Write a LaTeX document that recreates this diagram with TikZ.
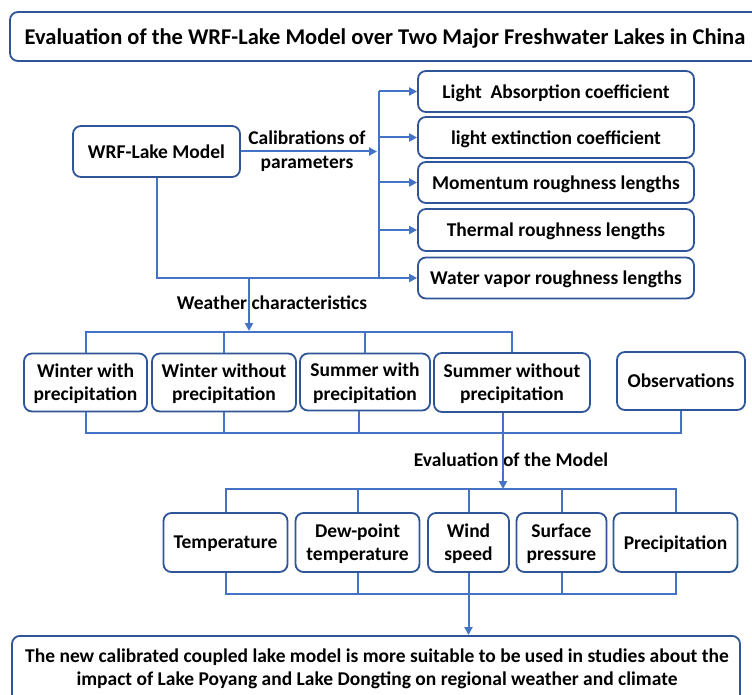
\documentclass[tikz,border=0pt]{standalone}
\usepackage{fontspec}
\setmainfont{Carlito}
\usetikzlibrary{arrows.meta}
\definecolor{lineblue}{HTML}{4472C4}
\definecolor{boxblue}{HTML}{2F5597}
\tikzset{
  txt/.style={font=\bfseries\fontsize{19.5}{23.5}\selectfont, align=center, inner sep=0pt},
  box/.style={txt, text depth=0.5pt, draw=boxblue, line width=1.8pt, rounded corners=8pt, fill=white},
  conn/.style={draw=lineblue, line width=2pt},
  arr/.style={conn, -{Triangle[length=8pt,width=8pt]}},
}
\begin{document}
\begin{tikzpicture}[x=1pt,y=-1pt]
\useasboundingbox (0,0) rectangle (752,695);
\clip (0,0) rectangle (752,695);
\fill[white] (0,0) rectangle (752,695);

% title
\node[box, minimum width=760, minimum height=49] (title) at (390,36.5) {};
\node[txt, font=\bfseries\fontsize{22.5}{26}\selectfont] (titletext) at (385,38) {Evaluation of the WRF-Lake Model over Two Major Freshwater Lakes in China};

% model and parameters
\node[box, minimum width=167, minimum height=51] (wrf) at (156.5,151.5) {WRF-Lake Model};
\node[box, minimum width=276, minimum height=41] (p1) at (556,91.5) {Light\ \ Absorption coefficient};
\node[box, minimum width=276, minimum height=41] (p2) at (556,137.5) {light extinction coefficient};
\node[box, minimum width=276, minimum height=41] (p3) at (556,182.5) {Momentum roughness lengths};
\node[box, minimum width=276, minimum height=42] (p4) at (556,230) {Thermal roughness lengths};
\node[box, minimum width=276, minimum height=41] (p5) at (556,278) {Water vapor roughness lengths};

\coordinate (calib) at (377,151.5);
\coordinate (busT) at (379,91.5);
\coordinate (busB) at (379,278);
\coordinate (wx) at (249,278);
\draw[arr] (wrf.east) -- (calib);
\node[txt] (calibtext) at (307,151) {Calibrations of\\parameters};
\draw[conn] (wrf.south) |- (busB) -- (busT);
\draw[arr] (busT) -- (p1.west);
\draw[arr] (p2.west -| busT) -- (p2.west);
\draw[arr] (p3.west -| busT) -- (p3.west);
\draw[arr] (p4.west -| busT) -- (p4.west);
\draw[arr] (busB) -- (p5.west);

% weather characteristics
\coordinate (wbus) at (0,332);
\node[txt] (weathertext) at (272,303) {Weather characteristics};
\draw[arr] (wx) -- (249,331);

\node[box, minimum width=123, minimum height=58] (w1) at (85.5,382.5) {Winter with\\precipitation};
\node[box, minimum width=144, minimum height=58] (w2) at (224,382.5) {Winter without\\precipitation};
\node[box, minimum width=130, minimum height=57] (w3) at (365,382) {Summer with\\precipitation};
\node[box, minimum width=156, minimum height=59] (w4) at (512,382.5) {Summer without\\precipitation};
\node[box, minimum width=128, minimum height=58] (obs) at (681,381) {Observations};

\draw[conn] (w1.north) -- (w1.north |- wbus) -- (w4.north |- wbus) -- (w4.north);
\draw[conn] (w2.north |- wbus) -- (w2.north);
\draw[conn] (w3.north |- wbus) -- (w3.north);

\coordinate (wbus2) at (0,433);
\coordinate (w3b) at ([xshift=-6pt]w3.south);
\coordinate (w4b) at ([xshift=-9pt]w4.south);
\draw[conn] (w1.south) -- (w1.south |- wbus2) -- (obs.south |- wbus2) -- (obs.south);
\draw[conn] (w2.south) -- (w2.south |- wbus2);
\draw[conn] (w3b) -- (w3b |- wbus2);

\node[txt] (evaltext) at (511,460) {Evaluation of the Model};
\coordinate (tbus) at (0,489);
\draw[arr] (w4b) -- (w4b |- tbus);

% evaluation variables
\node[box, minimum width=124, minimum height=59] (t1) at (225.5,542.5) {Temperature};
\node[box, minimum width=124, minimum height=59] (t2) at (357.5,542.5) {Dew-point\\temperature};
\node[box, minimum width=81, minimum height=59] (t3) at (468.5,542.5) {Wind\\speed};
\node[box, minimum width=90, minimum height=59] (t4) at (561.5,542.5) {Surface\\pressure};
\node[box, minimum width=124, minimum height=59] (t5) at (675.5,542.5) {Precipitation};

\draw[conn] (t1.north) -- (t1.north |- tbus) -- (t5.north |- tbus) -- (t5.north);
\draw[conn] (t2.north |- tbus) -- (t2.north);
\draw[conn] (t3.north |- tbus) -- (t3.north);
\draw[conn] (t4.north |- tbus) -- (t4.north);

\coordinate (tbus2) at (0,594);
\draw[conn] (t1.south) -- (t1.south |- tbus2) -- (t5.south |- tbus2) -- (t5.south);
\draw[conn] (t2.south) -- (t2.south |- tbus2);
\draw[conn] (t4.south) -- (t4.south |- tbus2);

% conclusion
\node[box, minimum width=728, minimum height=90, anchor=north] (final) at (376,635) {};
\node[txt] (finaltext) at (377,669) {The new calibrated coupled lake model is more suitable to be used in studies about the\\impact of Lake Poyang and Lake Dongting on regional weather and climate};
\draw[arr] (t3.south) -- (final.north -| t3.south);
\end{tikzpicture}
\end{document}
